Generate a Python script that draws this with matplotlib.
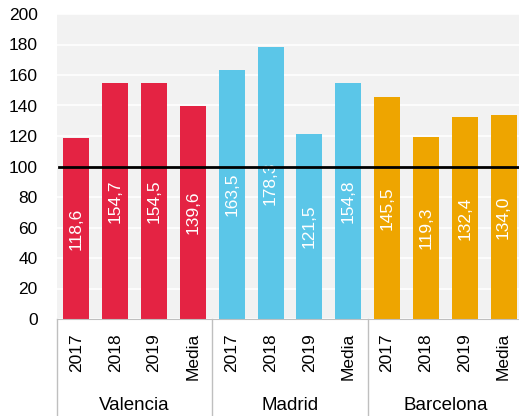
import numpy as np
import matplotlib.pyplot as plt

plt.rcParams['font.family'] = ['Liberation Sans', 'DejaVu Sans']

ciudades = ['Valencia', 'Madrid', 'Barcelona']
periodos = ['2017', '2018', '2019', 'Media']
valencia = [118.6, 154.7, 154.5, 139.6]
madrid = [163.5, 178.3, 121.5, 154.8]
barcelona = [145.5, 119.3, 132.4, 134.0]
colores = ['#E42343', '#5BC6E8', '#EEA500']

valores = valencia + madrid + barcelona
etiquetas = periodos * 3
x = np.arange(len(valores))
col_barras = [c for c in colores for _ in periodos]

fig = plt.figure(figsize=(5.19, 4.16), dpi=100)
ax = fig.add_axes([57/519, 1 - 319/416, 466/519, 305/416])
ax.set_facecolor('#F2F2F2')

ax.bar(x, valores, width=0.67, color=col_barras, zorder=2)
for xi, v in zip(x, valores):
    txt = f'{v:.1f}'.replace('.', ',')
    ax.text(xi, v / 2, txt, rotation=90, ha='center', va='center',
            color='white', fontsize=12.5, zorder=3)

ax.axhline(100, xmin=0.005, color='black', lw=2, zorder=4)

ax.set_ylim(0, 200)
ax.set_xlim(-0.5, len(valores) - 0.5)
ax.set_yticks(range(0, 201, 20))
ax.yaxis.grid(True, color='white', lw=1.2, zorder=1)
ax.set_axisbelow(True)
ax.tick_params(axis='y', length=0, pad=14, labelsize=12.5)
ax.set_xticks(x)
ax.set_xticklabels(etiquetas, rotation=90, fontsize=12.5)
ax.tick_params(axis='x', length=0, pad=10)

for s in ['top', 'right', 'left']:
    ax.spines[s].set_visible(False)
ax.spines['bottom'].set_color('#BFBFBF')

# separadores de grupos y nombres de ciudad
trans = ax.get_xaxis_transform()
for i in range(len(ciudades) + 1):
    xs = i * len(periodos) - 0.5
    ax.plot([xs, xs], [0, -0.33], color='#BFBFBF', lw=1, transform=trans,
            clip_on=False)
for i, nombre in enumerate(ciudades):
    xc = i * len(periodos) + (len(periodos) - 1) / 2
    ax.text(xc, -0.283, nombre, ha='center', va='center', fontsize=13.5,
            transform=trans)

fig.savefig('out.png', dpi=100)
